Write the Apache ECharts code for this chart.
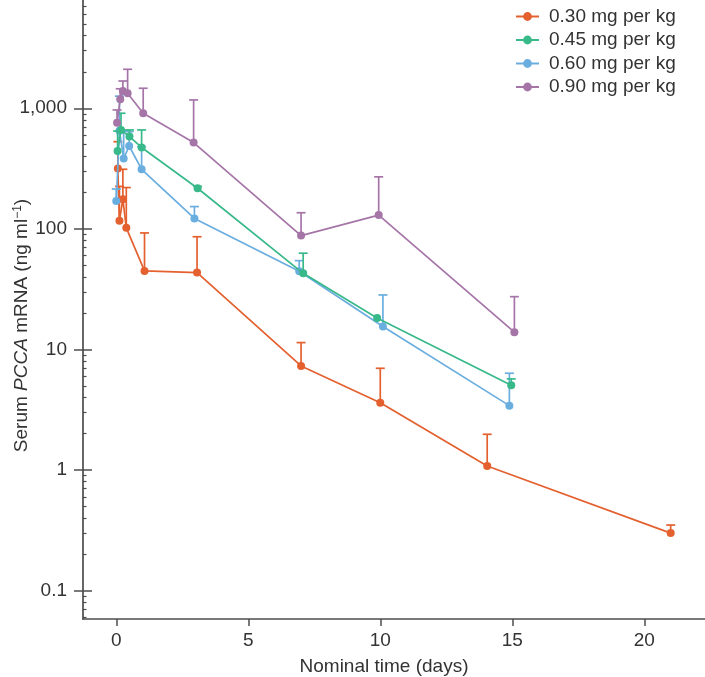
<!DOCTYPE html>
<html>
<head>
<meta charset="utf-8">
<script src="https://cdn.jsdelivr.net/npm/echarts@6/dist/echarts.min.js"></script>
<style>
  html, body { margin: 0; padding: 0; background: #fff; }
  #box { width: 705px; height: 677px; }
</style>
</head>
<body>
<div id="box"></div>
<script>
// dose groups
const doseNames = ['0.30 mg per kg', '0.45 mg per kg', '0.60 mg per kg', '0.90 mg per kg'];
const doseColors = ['#e4602f', '#38b98a', '#6aaee0', '#a675a8'];

// 0.30 mg per kg
const time030 = [0.06, 0.12, 0.25, 0.38, 1.07, 3.06, 7.0, 10.0, 14.05, 21.0];
const mean030 = [316, 117, 176, 102, 44.8, 43.4, 7.3, 3.62, 1.08, 0.30];
const upper030 = [528, 225, 312, 220, 92.5, 86, 11.4, 6.98, 1.98, 0.35];

// 0.45 mg per kg
const time045 = [0.05, 0.18, 0.5, 0.96, 3.08, 7.08, 9.88, 14.96];
const mean045 = [443, 661, 582, 473, 217, 42.8, 18.2, 5.05];
const upper045 = [647, 909, 661, 661, 225, 62.8, null, 5.7];

// 0.60 mg per kg
const time060 = [0.0, 0.12, 0.28, 0.49, 0.96, 2.96, 6.93, 10.1, 14.89];
const mean060 = [170, 652, 384, 486, 312, 122, 44.5, 15.5, 3.42];
const upper060 = [214, 1260, 650, 640, 480, 153, 54.5, 28.3, 6.35];

// 0.90 mg per kg
const time090 = [0.03, 0.15, 0.25, 0.43, 1.02, 2.93, 7.0, 9.94, 15.08];
const mean090 = [760, 1188, 1391, 1331, 910, 519, 87.9, 130, 13.9];
const upper090 = [968, 1450, 1683, 2104, 1465, 1172, 136, 270, 27.4];

// axis ticks
const xTicks = [0, 5, 10, 15, 20];
const yMajor = [0.1, 1, 10, 100, 1000];
const yMinor = [];
for (let d = 0.01; d <= 1000; d *= 10) {
    for (let k = 2; k <= 9; k++) yMinor.push(+(d * k).toPrecision(3));
}

const font = "'Liberation Sans', Arial, sans-serif";
const axisColor = '#4d4d4d';
const textColor = '#333';

const groups = [
    [time030, mean030, upper030],
    [time045, mean045, upper045],
    [time060, mean060, upper060],
    [time090, mean090, upper090]
];
// draw order: orange, blue, green, purple
const zOrder = [2, 4, 3, 5];

let myChart = echarts.init(document.getElementById('box'), null, { renderer: 'canvas' });

let series = [];
groups.forEach((g, i) => {
    const color = doseColors[i];
    series.push({
        name: doseNames[i] + ' err',
        type: 'custom',
        xAxisIndex: 0,
        yAxisIndex: 0,
        z: zOrder[i],
        silent: true,
        data: g[0].map((t, j) => [t, g[1][j], g[2][j]]).filter(d => d[2] != null),
        encode: { x: 0, y: [1, 2] },
        renderItem: function (params, api) {
            const p0 = api.coord([api.value(0), api.value(1)]);
            const p1 = api.coord([api.value(0), api.value(2)]);
            const hw = 4.5;
            return {
                type: 'group',
                children: [
                    { type: 'line', shape: { x1: p0[0], y1: p0[1], x2: p1[0], y2: p1[1] }, style: { stroke: color, lineWidth: 1.7 } },
                    { type: 'line', shape: { x1: p1[0] - hw, y1: p1[1], x2: p1[0] + hw, y2: p1[1] }, style: { stroke: color, lineWidth: 1.7 } }
                ]
            };
        }
    });
    series.push({
        name: doseNames[i],
        type: 'line',
        xAxisIndex: 0,
        yAxisIndex: 0,
        z: zOrder[i],
        data: g[0].map((t, j) => [t, g[1][j]]),
        symbol: 'circle',
        symbolSize: 8,
        showSymbol: true,
        color: color,
        lineStyle: { color: color, width: 1.7 },
        itemStyle: { color: color },
        emphasis: { disabled: true }
    });
});

const logAxisBase = {
    type: 'log',
    logBase: 10,
    min: 0.0582,
    max: 7900,
    position: 'left',
    splitLine: { show: false }
};

let option = {
    animation: false,
    backgroundColor: '#fff',
    textStyle: { fontFamily: font },
    grid: { left: 83, right: 0, top: 0, bottom: 58, containLabel: false, outerBoundsMode: 'none' },
    legend: {
        data: doseNames,
        orient: 'vertical',
        left: 515,
        top: 7,
        padding: 0,
        itemWidth: 23,
        itemHeight: 11,
        itemGap: 4.5,
        textStyle: { fontFamily: font, fontSize: 19, color: textColor, padding: [0, 0, 0, 5] }
    },
    xAxis: {
        type: 'value',
        min: -1.26,
        max: 22.3,
        name: 'Nominal time (days)',
        nameLocation: 'middle',
        nameGap: 38,
        nameMoveOverlap: false,
        nameTextStyle: { fontFamily: font, fontSize: 19, color: textColor, padding: [0, 20, 0, 0] },
        axisLine: { show: true, onZero: false, lineStyle: { color: axisColor, width: 1.7 } },
        axisTick: { show: true, length: 7, customValues: xTicks, lineStyle: { color: axisColor, width: 1.5 } },
        axisLabel: { customValues: xTicks, margin: 12, fontFamily: font, fontSize: 19, color: textColor },
        splitLine: { show: false }
    },
    yAxis: [
        Object.assign({}, logAxisBase, {
            name: '{n|Serum }{i|PCCA}{n| mRNA (ng ml}{s|\u22121}{n|)}',
            nameLocation: 'middle',
            nameGap: 52,
            nameRotate: 90,
            nameMoveOverlap: false,
            nameTextStyle: {
                fontFamily: font,
                color: textColor,
                padding: [0, 32, 0, 0],
                rich: {
                    n: { fontFamily: font, fontSize: 19, color: textColor },
                    i: { fontFamily: font, fontSize: 19, color: textColor, fontStyle: 'italic' },
                    s: { fontFamily: font, fontSize: 12, color: textColor, verticalAlign: 'top', padding: [0, 0, 6, 0] }
                }
            },
            axisLine: { show: true, onZero: false, lineStyle: { color: axisColor, width: 1.7 } },
            axisTick: { show: true, length: 9, customValues: yMajor, lineStyle: { color: axisColor, width: 1.5 } },
            axisLabel: {
                customValues: yMajor,
                margin: 16,
                fontFamily: font,
                fontSize: 19,
                color: textColor,
                formatter: v => v >= 1000 ? v.toLocaleString('en-US') : String(v)
            }
        }),
        Object.assign({}, logAxisBase, {
            axisLine: { show: false, onZero: false },
            axisTick: { show: true, inside: true, length: 9, customValues: yMajor, lineStyle: { color: axisColor, width: 1.5 } },
            axisLabel: { show: false }
        }),
        Object.assign({}, logAxisBase, {
            axisLine: { show: false, onZero: false },
            axisTick: { show: true, inside: true, length: 3.5, customValues: yMinor, lineStyle: { color: axisColor, width: 1.2 } },
            axisLabel: { show: false }
        })
    ],
    series: series
};
myChart.setOption(option);
</script>
</body>
</html>
